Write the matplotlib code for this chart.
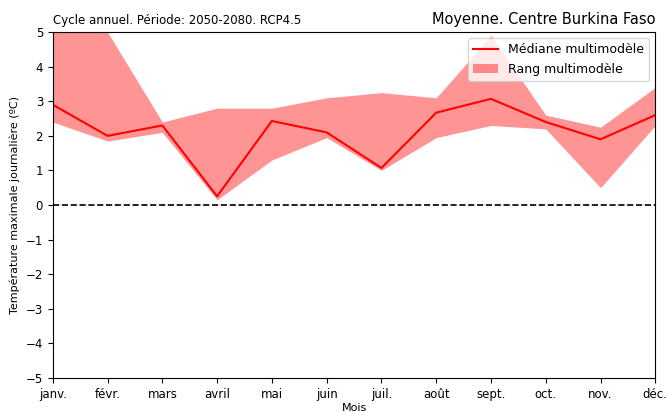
import matplotlib.pyplot as plt
import numpy as np

months = ['janv.', 'févr.', 'mars', 'avril', 'mai', 'juin', 'juil.', 'août', 'sept.', 'oct.', 'nov.', 'déc.']
median = [2.9, 2.0, 2.3, 0.25, 2.43, 2.1, 1.07, 2.67, 3.07, 2.4, 1.9, 2.6]
upper = [5.6, 5.0, 2.4, 2.8, 2.8, 3.1, 3.25, 3.1, 4.9, 2.6, 2.25, 3.4]
lower = [2.4, 1.85, 2.1, 0.15, 1.3, 1.95, 1.0, 1.95, 2.3, 2.2, 0.5, 2.3]

x = np.arange(len(months))

fig = plt.figure(figsize=(6.68, 4.12), dpi=100)
ax = fig.add_axes([0.079, 0.083, 0.902, 0.839])

ax.fill_between(x, lower, upper, color='red', alpha=0.42, linewidth=0, label='Rang multimodèle')
ax.plot(x, median, color='red', linewidth=1.5, label='Médiane multimodèle')
ax.axhline(0, color='black', linestyle='--', linewidth=1.2)

ax.set_xlim(0, 11)
ax.set_ylim(-5, 5)
ax.set_xticks(x)
ax.set_xticklabels(months)
ax.set_yticks(range(-5, 6))
ax.tick_params(labelsize=8.5)
ax.set_xlabel('Mois', fontsize=8, labelpad=2)
ax.set_ylabel('Température maximale journalière (ºC)', fontsize=8)
ax.set_title('Cycle annuel. Période: 2050-2080. RCP4.5', loc='left', fontsize=8.5)
ax.set_title('Moyenne. Centre Burkina Faso', loc='right', fontsize=10.5)

handles, labels = ax.get_legend_handles_labels()
ax.legend(handles[::-1], labels[::-1], loc='upper right', fontsize=9)

plt.savefig('out.png')
